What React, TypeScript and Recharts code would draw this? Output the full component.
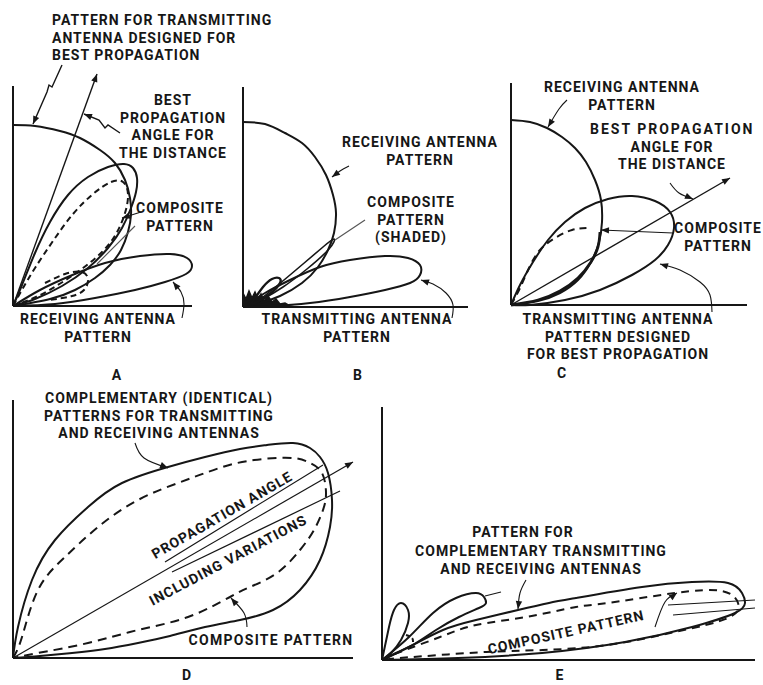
import React from 'react';
import { ComposedChart, Line, Area, XAxis, YAxis, ReferenceLine, ReferenceDot } from 'recharts';

type Pair = [number, number];
type Pt = { x: number; y: number };

// all pattern outlines are read off the drawing, in units of the panel's own axes
// (x to the right of the vertical axis, y up from the horizontal axis)

// A
const aTransmit: Pair[] = [[0, 181], [22, 180], [47, 175], [67, 168], [87, 156], [102, 143], [112, 126], [117, 108], [118, 91], [115, 74], [108, 56], [97, 41], [82, 28], [62, 16], [37, 7], [0, 0]];
const aReceiveHigh: Pair[] = [[0, 0], [9, 21], [22, 53], [37, 84], [55, 111], [75, 129], [95, 139], [111, 142], [120, 138], [124, 128], [123, 114], [118, 98], [109, 78], [95, 58], [75, 38], [49, 20], [22, 7], [0, 0]];
const aReceiveLow: Pair[] = [[0, 0], [27, 16], [57, 30], [92, 43], [127, 50], [157, 52], [174, 48], [179, 40], [173, 32], [152, 24], [122, 16], [82, 8], [42, 2], [0, 0]];
const aComposite: Pair[] = [[0, 0], [10, 18], [22, 38], [40, 65], [60, 92], [80, 112], [98, 124], [110, 124], [115, 112], [112, 93], [103, 72], [89, 54], [70, 38], [48, 23], [25, 10], [0, 0]];
const aCompositeLow: Pair[] = [[32, 23], [52, 32], [69, 34], [75, 26], [71, 16], [59, 10], [37, 6]];
const aBeam: Pair[] = [[0, 0], [84, 232]];
const aLeadTx: Pair[] = [[49, 241], [39, 219], [36, 221], [34, 214], [20, 182]];
const aLeadBeam: Pair[] = [[107, 173], [95, 181], [92, 178], [86, 186], [71, 192]];
const aLeadComp: Pair[] = [[128, 94], [109, 88]];
const aLeadComp2: Pair[] = [[122, 80], [84, 42]];
const aLeadRecv: Pair[] = [[169, -12], [171, 2], [168, 14], [160, 24]];

// B
const bReceive: Pair[] = [[0, 185], [22, 183], [42, 174], [59, 164], [72, 150], [83, 132], [90, 112], [93, 94], [91, 74], [85, 57], [75, 40], [59, 24], [37, 11], [17, 4], [0, 0]];
const bTransmit: Pair[] = [[0, 0], [22, 14], [47, 27], [77, 40], [107, 47], [142, 51], [165, 49], [177, 42], [177, 32], [167, 24], [142, 17], [107, 10], [67, 4], [27, 1], [0, 0]];
const bSliver: Pair[] = [[15, 6], [35, 22], [60, 43], [80, 60], [91, 68], [86, 58], [64, 38], [40, 20], [20, 8], [15, 6]];
const bPetal: Pair[] = [[8, 3], [20, 20], [29, 28], [36, 29], [37, 24], [28, 14], [14, 5], [8, 3]];
const bShadeX = [0, 3, 6, 9, 12, 15, 18, 21, 25, 29, 33, 37, 42, 47, 52];
const bShadeTop = [14, 8, 16, 9, 15, 8, 13, 6, 11, 5, 8, 3, 4, 1, 0];
const bLeadRecv: Pair[] = [[106, 141], [97, 136], [89, 130]];
const bLeadComp: Pair[] = [[122, 87], [92, 67]];
const bLeadTx: Pair[] = [[209, -11], [210, 2], [203, 14], [190, 23], [178, 27]];

// C
const cReceive: Pair[] = [[0, 185], [19, 183], [36, 177], [51, 168], [64, 157], [75, 143], [84, 125], [90, 105], [91, 83], [88, 63], [80, 43], [67, 25], [49, 12], [27, 4], [0, 0]];
const cTransmit: Pair[] = [[0, 0], [9, 20], [22, 43], [37, 65], [54, 83], [74, 97], [97, 106], [121, 109], [144, 104], [159, 93], [163, 77], [157, 60], [144, 45], [121, 30], [89, 15], [54, 5], [19, 0], [0, 0]];
const cCompDash: Pair[] = [[0, 0], [9, 17], [18, 37], [29, 55], [44, 67], [61, 75], [77, 77]];
const cCompSolid: Pair[] = [[89, 73], [87, 58], [80, 43], [67, 27], [49, 14], [27, 5], [0, 0]];
const cBeam: Pair[] = [[0, 0], [219, 127]];
const cLeadRecv: Pair[] = [[56, 205], [48, 196], [37, 178]];
const cLeadBeam: Pair[] = [[159, 122], [168, 112], [182, 106]];
const cLeadComp: Pair[] = [[162, 72], [90, 75]];
const cLeadTx: Pair[] = [[201, -7], [199, 10], [189, 23], [169, 35], [149, 41]];

// D
const dPattern: Pair[] = [[0, 0], [5, 31], [19, 78], [42, 118], [75, 151], [109, 175], [155, 191], [192, 201], [227, 209], [254, 213], [280, 215], [297, 210], [307, 201], [315, 185], [319, 158], [317, 131], [307, 98], [287, 68], [260, 48], [227, 38], [192, 31], [157, 22], [125, 15], [92, 9], [59, 5], [27, 2], [0, 0]];
const dComposite: Pair[] = [[0, 0], [9, 21], [25, 68], [52, 101], [85, 131], [125, 158], [165, 175], [192, 185], [220, 194], [250, 199], [280, 200], [297, 195], [309, 185], [313, 165], [310, 148], [301, 128], [287, 108], [264, 85], [237, 71], [217, 61], [175, 41], [125, 28], [75, 15], [25, 5], [0, 0]];
const dBeam: Pair[] = [[0, 0], [340, 196]];
const dUpper: Pair[] = [[152, 96], [310, 193]];
const dLower: Pair[] = [[159, 86], [327, 167]];
const dLeadPattern: Pair[] = [[122, 215], [131, 200], [155, 190]];
const dLeadComp: Pair[] = [[234, 31], [231, 45], [218, 60]];

// E
const eMain: Pair[] = [[0, 0], [27, 13], [61, 30], [94, 40], [136, 50], [167, 57], [194, 62], [260, 73], [310, 78], [346, 77], [360, 67], [363, 57], [353, 47], [310, 33], [243, 18], [160, 7], [76, 2], [0, 0]];
const eComposite: Pair[] = [[0, 0], [18, 8], [58, 23], [94, 35], [144, 43], [194, 53], [226, 57], [293, 67], [340, 69], [356, 57], [346, 42], [293, 28], [226, 15], [161, 10], [104, 8], [58, 5], [18, 2], [0, 0]];
const eSecond: Pair[] = [[0, 0], [27, 23], [51, 47], [74, 62], [94, 67], [102, 63], [104, 57], [97, 52], [77, 43], [54, 30], [34, 17], [14, 7], [0, 0]];
const eSecondTail: Pair[] = [[103, 64], [119, 68]];
const eThird: Pair[] = [[0, 0], [7, 33], [12, 50], [19, 57], [26, 50], [26, 37], [19, 20], [9, 7], [0, 0]];
const eHook: Pair[] = [[24, 25], [30, 22], [31, 17]];
const eRightA: Pair[] = [[286, 55], [373, 60]];
const eRightB: Pair[] = [[291, 45], [373, 52]];
const eLeadPattern: Pair[] = [[144, 80], [138, 67], [136, 51]];
const eLeadComp: Pair[] = [[273, 33], [283, 58], [295, 67]];

const INK = '#161616';
const FONT = 'Roboto, "DejaVu Sans", sans-serif';

const pts = (p: Pair[]): Pt[] => p.map(([x, y]) => ({ x, y }));

interface Trace { data: Pair[]; w?: number; dash?: string; arrow?: boolean; color?: string; linear?: boolean }
interface Note { x: number; y: number; lines: string[]; anchor?: 'start' | 'middle'; angle?: number; size?: number; spacing?: number; lh?: number }
interface PanelProps {
  left: number; top: number; width: number; height: number;
  ox: number; oy: number; axisW: number; axisH: number;
  traces: Trace[]; notes: Note[]; shade?: { x: number; top: number }[];
}

// arrowhead on the last point; the panel scales are 1 unit = 1 px so data angle = screen angle
const arrowDot = (p: Pair[], color: string) => (props: any) => {
  const { cx, cy, index } = props;
  if (index !== p.length - 1 || cx == null) return <g key={`d${index}`} />;
  const [x0, y0] = p[p.length - 2];
  const [x1, y1] = p[p.length - 1];
  const ang = Math.atan2(-(y1 - y0), x1 - x0);
  const L = 8, W = 3.2;
  const bx = cx - L * Math.cos(ang), by = cy - L * Math.sin(ang);
  const nx = -Math.sin(ang), ny = Math.cos(ang);
  const poly = `${cx},${cy} ${bx + W * nx},${by + W * ny} ${bx - W * nx},${by - W * ny}`;
  return <polygon key={`d${index}`} points={poly} fill={color} stroke="none" />;
};

const renderNote = (n: Note) => (props: any) => {
  const vb = props.viewBox || {};
  const cx = (vb.x ?? 0) + (vb.width ?? 0) / 2;
  const cy = (vb.y ?? 0) + (vb.height ?? 0) / 2;
  const size = n.size ?? 14;
  const lh = n.lh ?? 17.5;
  const base = cy + size * 0.36;
  return (
    <text
      textAnchor={n.anchor ?? 'middle'}
      fontFamily={FONT}
      fontWeight={700}
      fontSize={size}
      letterSpacing={n.spacing ?? 1}
      fill={INK}
      transform={n.angle ? `rotate(${n.angle} ${cx} ${cy})` : undefined}
    >
      {n.lines.map((t, i) => (
        <tspan key={i} x={cx} y={base + i * lh}>{t}</tspan>
      ))}
    </text>
  );
};

const Panel: React.FC<PanelProps> = ({ left, top, width, height, ox, oy, axisW, axisH, traces, notes, shade }) => (
  <div style={{ position: 'absolute', left, top, width, height }}>
    <ComposedChart width={width} height={height} data={shade ?? []} margin={{ top: 0, right: 0, bottom: 0, left: 0 }}>
      <XAxis type="number" dataKey="x" domain={[-ox, width - ox]} allowDataOverflow hide />
      <YAxis type="number" domain={[oy - height, oy]} allowDataOverflow hide />
      <ReferenceLine segment={[{ x: 0, y: 0 }, { x: 0, y: axisH }]} stroke={INK} strokeWidth={2} ifOverflow="visible" />
      <ReferenceLine segment={[{ x: 0, y: 0 }, { x: axisW, y: 0 }]} stroke={INK} strokeWidth={2} ifOverflow="visible" />
      {shade && (
        <Area dataKey="top" type="linear" baseValue={0} fill={INK} fillOpacity={1} stroke={INK} strokeWidth={1.5} isAnimationActive={false} />
      )}
      {traces.map((t, i) => {
        const color = t.color ?? INK;
        return (
          <Line
            key={i}
            data={pts(t.data)}
            dataKey="y"
            type={t.linear ? 'linear' : 'natural'}
            stroke={color}
            strokeWidth={t.w ?? 2}
            strokeDasharray={t.dash}
            dot={t.arrow ? arrowDot(t.data, color) : false}
            activeDot={false}
            isAnimationActive={false}
          />
        );
      })}
      {notes.map((n, i) => (
        <ReferenceDot key={`n${i}`} x={n.x} y={n.y} r={0} fill="none" stroke="none" ifOverflow="visible" label={renderNote(n)} />
      ))}
    </ComposedChart>
  </div>
);

const THIN = 1.1;

export default function App() {
  return (
    <div style={{ position: 'absolute', left: 0, top: 0, width: 763, height: 685, background: '#fff', overflow: 'hidden' }}>
      <Panel
        left={0} top={0} width={285} height={385} ox={13} oy={306} axisW={179} axisH={220}
        traces={[
          { data: aTransmit },
          { data: aReceiveHigh },
          { data: aReceiveLow },
          { data: aComposite, dash: '6 4' },
          { data: aCompositeLow, dash: '6 4' },
          { data: aBeam, w: 1.4, arrow: true, linear: true },
          { data: aLeadTx, w: 1.4, arrow: true, linear: true },
          { data: aLeadBeam, w: 1.4, arrow: true, linear: true },
          { data: aLeadComp, w: THIN, arrow: true, linear: true },
          { data: aLeadComp2, w: THIN, color: '#555', linear: true },
          { data: aLeadRecv, w: THIN, arrow: true },
        ]}
        notes={[
          { x: 39, y: 286, lines: ['PATTERN FOR TRANSMITTING', 'ANTENNA DESIGNED FOR', 'BEST PROPAGATION'], anchor: 'start' },
          { x: 160, y: 206, lines: ['BEST', 'PROPAGATION', 'ANGLE FOR', 'THE DISTANCE'] },
          { x: 167, y: 98, lines: ['COMPOSITE', 'PATTERN'] },
          { x: 85, y: -13, lines: ['RECEIVING ANTENNA', 'PATTERN'] },
          { x: 104, y: -69, lines: ['A'] },
        ]}
      />
      <Panel
        left={236} top={60} width={262} height={325} ox={7} oy={247} axisW={225} axisH={220}
        shade={bShadeX.map((x, i) => ({ x, top: bShadeTop[i] }))}
        traces={[
          { data: bReceive },
          { data: bTransmit },
          { data: bSliver, w: 1.6 },
          { data: bPetal, w: 2.4 },
          { data: bLeadRecv, w: THIN, arrow: true },
          { data: bLeadComp, w: THIN, color: '#555', linear: true },
          { data: bLeadTx, w: THIN, arrow: true },
        ]}
        notes={[
          { x: 177, y: 165, lines: ['RECEIVING ANTENNA', 'PATTERN'] },
          { x: 168, y: 105, lines: ['COMPOSITE', 'PATTERN', '(SHADED)'] },
          { x: 114, y: -12, lines: ['TRANSMITTING ANTENNA', 'PATTERN'] },
          { x: 115, y: -68, lines: ['B'] },
        ]}
      />
      <Panel
        left={500} top={70} width={263} height={315} ox={11} oy={235} axisW={236} axisH={222}
        traces={[
          { data: cReceive },
          { data: cTransmit },
          { data: cCompDash, dash: '7 5' },
          { data: cCompSolid, w: 2.8 },
          { data: cBeam, w: 1.4, arrow: true, linear: true },
          { data: cLeadRecv, w: THIN, arrow: true },
          { data: cLeadBeam, w: THIN, arrow: true },
          { data: cLeadComp, w: THIN, arrow: true, linear: true },
          { data: cLeadTx, w: THIN, arrow: true },
        ]}
        notes={[
          { x: 111, y: 218, lines: ['RECEIVING ANTENNA', 'PATTERN'] },
          { x: 79, y: 176, lines: ['BEST PROPAGATION'], anchor: 'start', spacing: 2 },
          { x: 161, y: 158, lines: ['ANGLE FOR', 'THE DISTANCE'], lh: 16.5 },
          { x: 207, y: 77, lines: ['COMPOSITE', 'PATTERN'] },
          { x: 107, y: -14, lines: ['TRANSMITTING ANTENNA', 'PATTERN DESIGNED', 'FOR BEST PROPAGATION'] },
          { x: 51, y: -68, lines: ['C'] },
        ]}
      />
      <Panel
        left={0} top={375} width={376} height={310} ox={13} oy={283} axisW={340} axisH={258}
        traces={[
          { data: dPattern },
          { data: dComposite, dash: '9 6' },
          { data: dBeam, w: 1.2, arrow: true, linear: true },
          { data: dUpper, w: 1.2, linear: true },
          { data: dLower, w: 1.2, linear: true },
          { data: dLeadPattern, w: THIN, arrow: true },
          { data: dLeadComp, w: THIN, arrow: true },
        ]}
        notes={[
          { x: 146, y: 260, lines: ['COMPLEMENTARY (IDENTICAL)', 'PATTERNS FOR TRANSMITTING', 'AND RECEIVING ANTENNAS'] },
          { x: 209, y: 143, lines: ['PROPAGATION ANGLE'], angle: -30 },
          { x: 215, y: 98, lines: ['INCLUDING VARIATIONS'], angle: -28 },
          { x: 258, y: 18, lines: ['COMPOSITE PATTERN'], spacing: 1.3 },
          { x: 174, y: -17, lines: ['D'] },
        ]}
      />
      <Panel
        left={376} top={375} width={387} height={310} ox={6} oy={285} axisW={373} axisH={253}
        traces={[
          { data: eMain },
          { data: eComposite, dash: '8 6' },
          { data: eSecond },
          { data: eThird },
          { data: eSecondTail, w: THIN, linear: true },
          { data: eHook, dash: '4 3' },
          { data: eRightA, w: THIN, linear: true },
          { data: eRightB, w: THIN, linear: true },
          { data: eLeadPattern, w: THIN, arrow: true },
          { data: eLeadComp, w: THIN, arrow: true },
        ]}
        notes={[
          { x: 141, y: 128, lines: ['PATTERN FOR'] },
          { x: 159, y: 109, lines: ['COMPLEMENTARY TRANSMITTING', 'AND RECEIVING ANTENNAS'] },
          { x: 184, y: 28, lines: ['COMPOSITE PATTERN'], angle: -12.5 },
          { x: 178, y: -15, lines: ['E'] },
        ]}
      />
    </div>
  );
}
